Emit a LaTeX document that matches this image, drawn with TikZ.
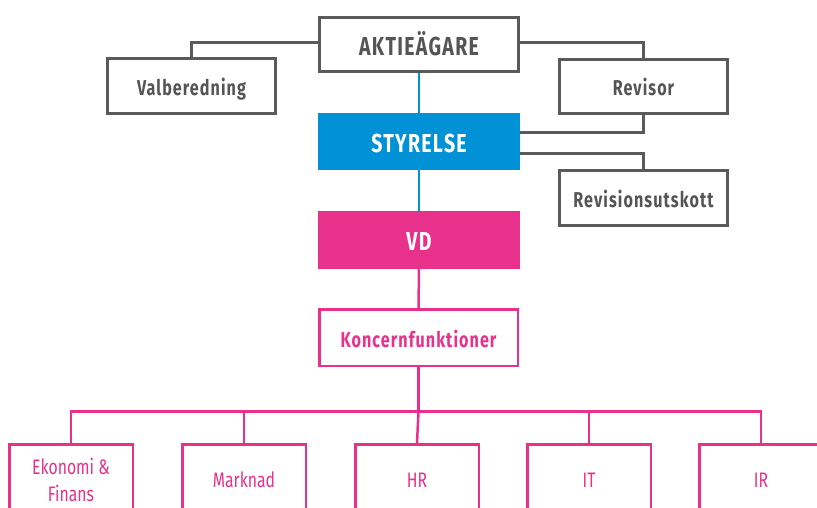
\documentclass[tikz,border=0pt]{standalone}
\usepackage{fontspec}
\newfontfamily\din[FakeStretch=0.75]{Fira Sans}
\newfontfamily\dinb[FakeStretch=0.75,LetterSpace=5]{Fira Sans}
\definecolor{cgray}{HTML}{5A5A5A}
\definecolor{ctext}{HTML}{555555}
\definecolor{cblue}{HTML}{0091D6}
\definecolor{cpink}{HTML}{E8318A}
\begin{document}
\begin{tikzpicture}[x=1pt,y=-1pt,
  graybox/.style={draw=cgray, line width=3pt, fill=white, inner sep=0pt,
    minimum width=168pt, minimum height=55pt, text=ctext,
    text height=18pt, text depth=0pt,
    font=\dinb\bfseries\fontsize{21.5}{25}\selectfont},
  topbox/.style={graybox, minimum width=199pt, minimum height=54pt,
    text height=21pt, font=\dinb\bfseries\fontsize{26}{30}\selectfont},
  fillbox/.style={inner sep=0pt, minimum width=202pt, minimum height=57pt,
    text=white, text height=21.5pt, text depth=0pt,
    font=\dinb\bfseries\fontsize{26}{30}\selectfont},
  konbox/.style={draw=cpink, line width=2.5pt, fill=white, inner sep=0pt,
    minimum width=198.5pt, minimum height=56.5pt, text=cpink,
    text height=19.5pt, text depth=0pt,
    font=\dinb\bfseries\fontsize{21.5}{25}\selectfont},
  funcbox/.style={draw=cpink, line width=2.5pt, fill=white, inner sep=0pt,
    minimum width=123.5pt, minimum height=71.5pt, text=cpink, align=center,
    font=\din\fontsize{21}{27}\selectfont},
  grayline/.style={draw=cgray, line width=3pt},
  blueline/.style={draw=cblue, line width=2.5pt},
  pinkline/.style={draw=cpink, line width=2.5pt}
]
\useasboundingbox (0,0) rectangle (817,507);
\clip (0,0) rectangle (817,507);

\coordinate (bus) at (418.5,411.5);

\node[topbox] (akt) at (419,44.5) {AKTIEÄGARE};
\node[graybox] (val) at (191.5,86) {Valberedning};
\node[graybox, minimum height=54pt] (rev) at (643.5,86.5) {Revisor};
\node[fillbox, fill=cblue] (sty) at (419,141.5) {STYRELSE};
\node[graybox] (revu) at (643.5,198) {Revisionsutskott};
\node[fillbox, fill=cpink, minimum height=58pt] (vd) at (419,240) {VD};
\node[konbox] (kon) at (418.5,337.5) {Koncernfunktioner};

\node[funcbox] (eko) at (71,480) {Ekonomi \&\\Finans};
\node[funcbox] (mar) at (244,480) {Marknad};
\node[funcbox] (hr) at (417,480) {HR};
\node[funcbox] (it) at (589,480) {IT};
\node[funcbox] (ir) at (761,480) {IR};

\draw[grayline] ([yshift=2.5pt]akt.west) -| (val.north);
\draw[grayline] ([yshift=2.5pt]akt.east) -| (rev.north);
\draw[grayline] (rev.south) |- ([yshift=9.5pt]sty.east);
\draw[grayline] ([yshift=-11.5pt]sty.east) -| (revu.north);
\draw[blueline] (akt.south) -- (sty.north);
\draw[blueline] (sty.south) -- (vd.north);
\draw[pinkline] (vd.south) -- (kon.north);
\draw[pinkline] (kon.south) -- (bus);
\draw[pinkline] (bus) -| (eko.north);
\draw[pinkline] (bus) -| (mar.north);
\draw[pinkline] (bus) -- (hr.north);
\draw[pinkline] (bus) -| (it.north);
\draw[pinkline] (bus) -| (ir.north);
\end{tikzpicture}
\end{document}
